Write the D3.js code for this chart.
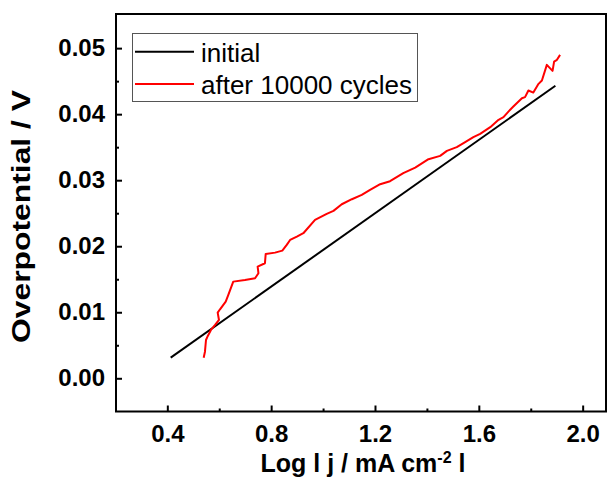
<!DOCTYPE html>
<html>
<head>
<meta charset="utf-8">
<script src="https://cdn.jsdelivr.net/npm/d3@7"></script>
<style>
  body { margin: 0; background: #fff; }
  text { font-family: "Liberation Sans", Arial, sans-serif; }
</style>
</head>
<body>
<svg id="chart" width="608" height="484"></svg>
<script>
// data
var initialX = [0.413, 1.895];
var initialY = [0.00312, 0.0443];

var cycledX = [0.540, 0.545, 0.549, 0.556, 0.568, 0.584, 0.599, 0.594, 0.603, 0.625, 0.635, 0.654,
               0.699, 0.738, 0.751, 0.748, 0.776, 0.779, 0.815, 0.843, 0.860, 0.873, 0.899, 0.924,
               0.969, 1.014, 1.040, 1.072, 1.111, 1.149, 1.181, 1.220, 1.258, 1.309, 1.355, 1.406,
               1.451, 1.477, 1.515, 1.541, 1.579, 1.605, 1.644, 1.676, 1.695, 1.714, 1.733, 1.766,
               1.778, 1.791, 1.810, 1.830, 1.843, 1.862, 1.884, 1.890, 1.901, 1.913];
var cycledY = [0.00312, 0.00403, 0.00580, 0.00641, 0.00732, 0.00808, 0.00883, 0.00994, 0.01045, 0.01161, 0.01262, 0.01464,
               0.01489, 0.01515, 0.01591, 0.01691, 0.01742, 0.01883, 0.01903, 0.01933, 0.02020, 0.02095, 0.02145, 0.02197,
               0.02398, 0.02489, 0.02535, 0.02636, 0.02712, 0.02777, 0.02853, 0.02939, 0.02985, 0.03106, 0.03191, 0.03318,
               0.03368, 0.03444, 0.03500, 0.03561, 0.03652, 0.03702, 0.03803, 0.03914, 0.03955, 0.04039, 0.04115, 0.04242,
               0.04258, 0.04358, 0.04327, 0.04459, 0.04509, 0.04747, 0.04656, 0.04797, 0.04823, 0.04898];

var xTicks = [0.4, 0.8, 1.2, 1.6, 2.0];
var xMinor = [0.6, 1.0, 1.4, 1.8];
var yTicks = [0.00, 0.01, 0.02, 0.03, 0.04, 0.05];
var yMinor = [0.005, 0.015, 0.025, 0.035, 0.045];
var legendNames = ["initial", "after 10000 cycles"];
var colors = ["#000000", "#ff0000"];

var svg = d3.select("#chart");
var padL = 116, padR = 606, padT = 14, padB = 411.5;

var x = d3.scaleLinear().domain([0.2023, 2.0899]).range([padL, padR]);
var y = d3.scaleLinear().domain([-0.00503, 0.05517]).range([padB, padT]);

function styleLabels(g){
    g.selectAll("text")
        .attr("font-size", 24).attr("font-weight", "bold").attr("fill", "#000")
        .style("font-family", "'Liberation Sans', Arial, sans-serif");
}

// minor ticks first, then major
svg.append("g")
    .attr("transform", "translate(0," + padB + ")")
    .call(d3.axisBottom(x).tickValues(xMinor).tickSize(-3).tickFormat(""))
    .call(g => g.select(".domain").remove())
    .selectAll("line").attr("stroke-width", 2);

svg.append("g")
    .attr("transform", "translate(" + padL + ",0)")
    .call(d3.axisLeft(y).tickValues(yMinor).tickSize(-3).tickFormat(""))
    .call(g => g.select(".domain").remove())
    .selectAll("line").attr("stroke-width", 2);

var xAxis = svg.append("g")
    .attr("transform", "translate(0," + padB + ")")
    .call(d3.axisBottom(x).tickValues(xTicks).tickSize(-6).tickPadding(13).tickFormat(d3.format(".1f")));
xAxis.select(".domain").remove();
xAxis.selectAll("line").attr("stroke-width", 2);
styleLabels(xAxis);

var yAxis = svg.append("g")
    .attr("transform", "translate(" + padL + ",0)")
    .call(d3.axisLeft(y).tickValues(yTicks).tickSize(-6).tickPadding(11).tickFormat(d3.format(".2f")));
yAxis.select(".domain").remove();
yAxis.selectAll("line").attr("stroke-width", 2);
styleLabels(yAxis);

// frame
svg.append("rect")
    .attr("x", padL).attr("y", padT)
    .attr("width", padR - padL).attr("height", padB - padT)
    .attr("fill", "none").attr("stroke", "#000").attr("stroke-width", 2);

var line = d3.line()
    .x(d => x(d[0]))
    .y(d => y(d[1]));

svg.append("path")
    .datum(d3.zip(initialX, initialY))
    .attr("d", line)
    .attr("fill", "none").attr("stroke", colors[0]).attr("stroke-width", 2);

svg.append("path")
    .datum(d3.zip(cycledX, cycledY))
    .attr("d", line)
    .attr("fill", "none").attr("stroke", colors[1]).attr("stroke-width", 2)
    .attr("stroke-linejoin", "round");

// legend
var legend = svg.append("g");
legend.append("rect")
    .attr("x", 132.5).attr("y", 33.5).attr("width", 285).attr("height", 68)
    .attr("fill", "#fff").attr("stroke", "#555").attr("stroke-width", 1);

legendNames.forEach(function(name, i){
    var ly = 51.7 + i * 32.3;
    legend.append("line")
        .attr("x1", 135).attr("x2", 194).attr("y1", ly).attr("y2", ly)
        .attr("stroke", colors[i]).attr("stroke-width", 2);
    legend.append("text")
        .attr("x", 201).attr("y", ly + 10)
        .attr("font-size", 26)
        .text(name);
});

// axis titles
var xTitle = svg.append("text")
    .attr("x", 363).attr("y", 472)
    .attr("text-anchor", "middle")
    .attr("font-size", 25).attr("font-weight", "bold");
xTitle.append("tspan").text("Log l j / mA cm");
xTitle.append("tspan").attr("dy", -9).attr("font-size", 16).text("-2");
xTitle.append("tspan").attr("dy", 9).text(" l");

svg.append("text")
    .attr("transform", "translate(30,216.5) rotate(-90)")
    .attr("text-anchor", "middle")
    .attr("font-size", 25).attr("font-weight", "bold")
    .attr("textLength", 253).attr("lengthAdjust", "spacingAndGlyphs")
    .text("Overpotential / V");
</script>
</body>
</html>
